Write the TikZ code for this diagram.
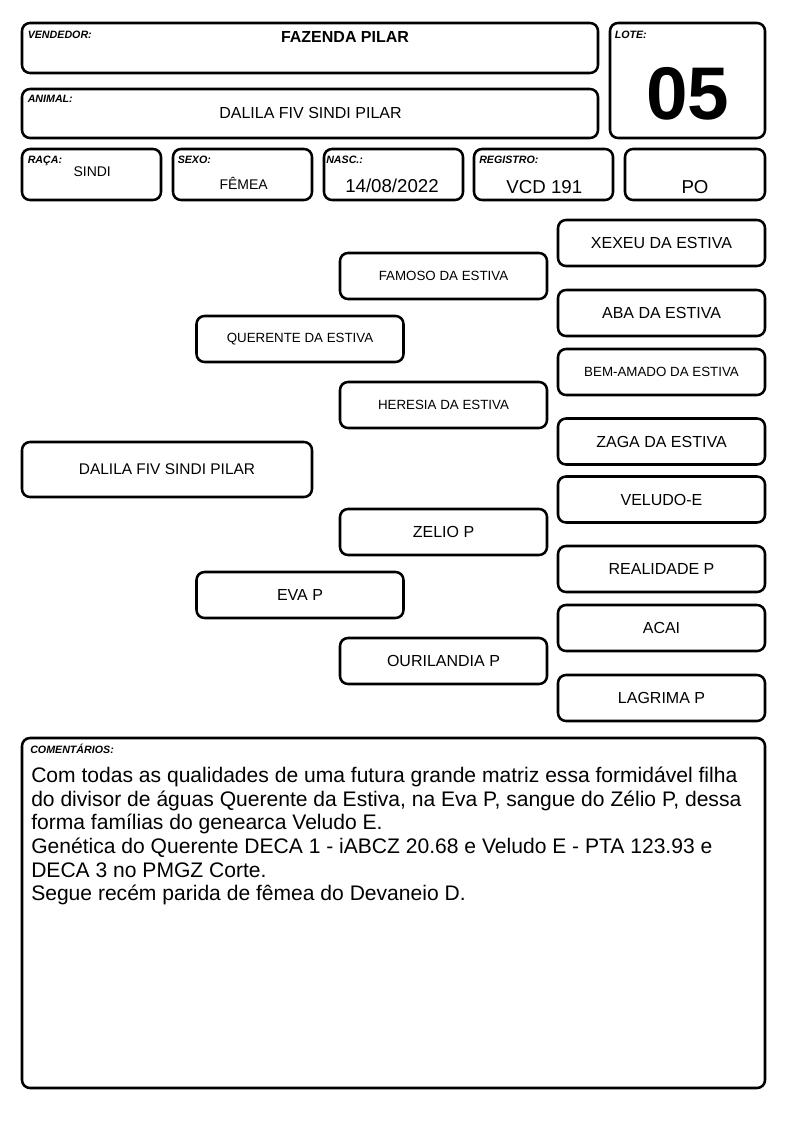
\documentclass[tikz,border=0pt]{standalone}
\usepackage{fontspec}
\setmainfont{Liberation Sans}
\tikzset{
  card/.style={draw, line width=1.9pt, rounded corners=6pt, inner sep=0pt},
  sz/.style 2 args={minimum width=#1*0.75pt, minimum height=#2*0.75pt},
  lbl/.style={font=\fontsize{8}{9}\selectfont\bfseries\itshape, inner sep=0pt, anchor=base west},
  val/.style={inner sep=0pt, anchor=base},
  anc/.style={card, sz={207}{46}, font=\fontsize{12}{14}\selectfont},
  ancsm/.style={anc, font=\fontsize{10}{12}\selectfont}
}

\begin{document}
\begin{tikzpicture}[x=0.75pt,y=-0.75pt]
\useasboundingbox (0,0) rectangle (794,1123);

% cabecalho
\node[card, sz={576}{50}] (vend) at (310,48) {};
\node[card, sz={576}{49}] (anim) at (310,113.5) {};
\node[card, sz={155}{115}] (lote) at (687.5,80.5) {};
\node[card, sz={139}{51}] (raca) at (91.5,174.5) {};
\node[card, sz={139}{51}] (sexo) at (242.5,174.5) {};
\node[card, sz={139}{51}] (nasc) at (393.5,174.5) {};
\node[card, sz={139}{51}] (reg) at (543.5,174.5) {};
\node[card, sz={140}{51}] (cat) at (695,174.5) {};

\node[lbl] (vendlbl) at (27.5,39) {VENDEDOR:};
\node[lbl] (animlbl) at (27.5,103) {ANIMAL:};
\node[lbl] (lotelbl) at (614.5,39) {LOTE:};
\node[lbl] (racalbl) at (27.5,163.5) {RAÇA:};
\node[lbl] (sexolbl) at (177.5,164) {SEXO:};
\node[lbl] (nasclbl) at (326,164) {NASC.:};
\node[lbl] (reglbl) at (479,164) {REGISTRO:};

\node[val, font=\fontsize{12}{14}\selectfont\bfseries] (vendval) at (345,42.7) {FAZENDA PILAR};
\node[val, font=\fontsize{12}{14}\selectfont] (animval) at (310.5,119) {DALILA FIV SINDI PILAR};
\node[val, font=\fontsize{56}{60}\selectfont\bfseries] (loteval) at (687.7,120) {05};
\node[val, font=\fontsize{10.5}{12}\selectfont] (racaval) at (92.2,177) {SINDI};
\node[val, font=\fontsize{10.5}{12}\selectfont] (sexoval) at (243.7,190) {FÊMEA};
\node[val, font=\fontsize{14}{16}\selectfont] (nascval) at (392,193) {14/08/2022};
\node[val, font=\fontsize{14}{16}\selectfont] (regval) at (544.3,193.3) {VCD 191};
\node[val, font=\fontsize{14}{16}\selectfont] (catval) at (695,193.3) {PO};

% genealogia
\node[card, sz={290}{55}, font=\fontsize{11.6}{14}\selectfont] (animal) at (167,469.5) {DALILA FIV SINDI PILAR};
\node[ancsm] (pai) at (300,339) {QUERENTE DA ESTIVA};
\node[anc] (mae) at (300,595) {EVA P};
\node[ancsm] (avop) at (443.5,276) {FAMOSO DA ESTIVA};
\node[ancsm] (avap) at (443.5,405) {HERESIA DA ESTIVA};
\node[anc] (avom) at (443.5,532) {ZELIO P};
\node[anc] (avam) at (443.5,661) {OURILANDIA P};
\node[anc] (bis1) at (661.5,243) {XEXEU DA ESTIVA};
\node[anc] (bis2) at (661.5,313) {ABA DA ESTIVA};
\node[ancsm] (bis3) at (661.5,372) {BEM-AMADO DA ESTIVA};
\node[anc] (bis4) at (661.5,441.5) {ZAGA DA ESTIVA};
\node[anc] (bis5) at (661.5,499.5) {VELUDO-E};
\node[anc] (bis6) at (661.5,569) {REALIDADE P};
\node[anc] (bis7) at (661.5,628) {ACAI};
\node[anc] (bis8) at (661.5,698) {LAGRIMA P};

% comentarios
\node[card, sz={743}{350}] (obs) at (393.5,913) {};
\node[lbl] (obslbl) at (30,753) {COMENTÁRIOS:};
\node[anchor=north west, inner sep=0pt, align=left, font=\fontsize{15.8}{17.8}\selectfont] (obstxt) at (31,766.5) {Com todas as qualidades de uma futura grande matriz essa formidável filha\\
do divisor de águas Querente da Estiva, na Eva P, sangue do Zélio P, dessa\\
forma famílias do genearca Veludo E.\\
Genética do Querente DECA 1 - iABCZ 20.68 e Veludo E - PTA 123.93 e\\
DECA 3 no PMGZ Corte.\\
Segue recém parida de fêmea do Devaneio D.};
\end{tikzpicture}
\end{document}
